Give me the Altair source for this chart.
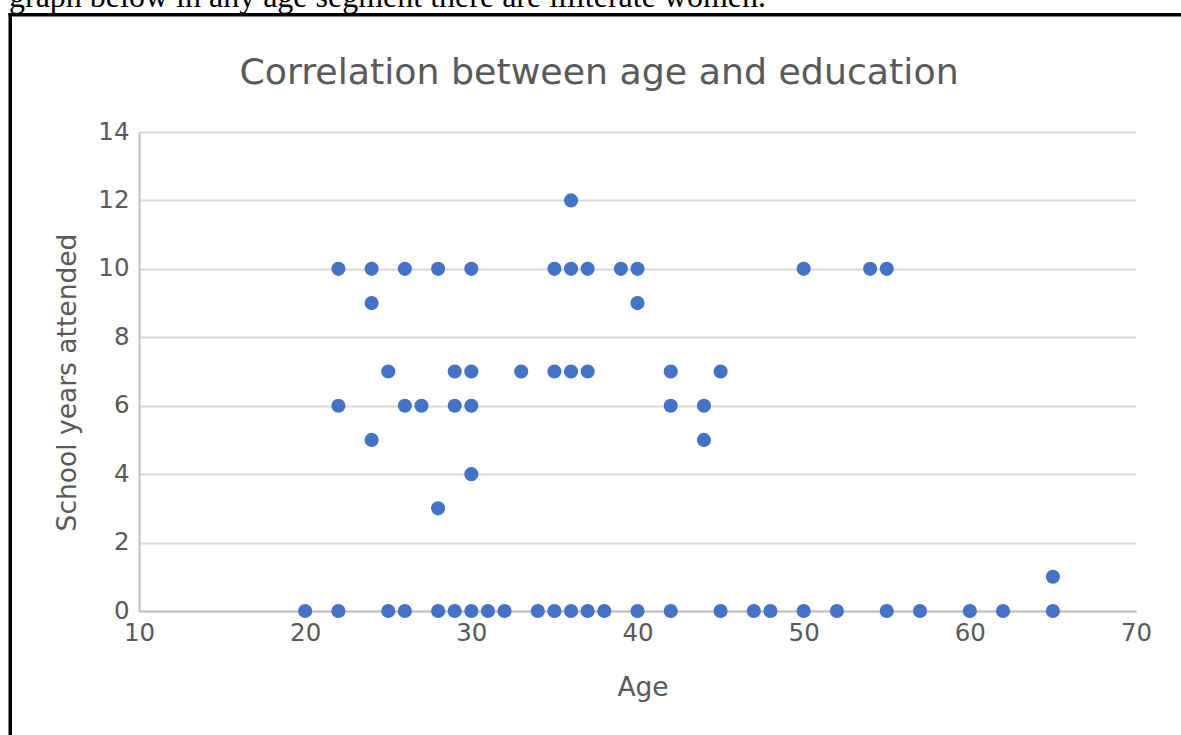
import altair as alt
import pandas as pd

# Each woman's age and the number of school years she attended
age = [
    20, 22, 25, 26, 28, 29, 30, 31, 32, 34, 35, 36, 37, 38, 40, 42, 45, 47, 48, 50, 52, 55, 57, 60, 62, 65,
    65,
    28,
    30,
    24, 44,
    22, 26, 27, 29, 30, 42, 44,
    25, 29, 30, 33, 35, 36, 37, 42, 45,
    24, 40,
    22, 24, 26, 28, 30, 35, 36, 37, 39, 40, 50, 54, 55,
    36,
]
school_years = [
    0, 0, 0, 0, 0, 0, 0, 0, 0, 0, 0, 0, 0, 0, 0, 0, 0, 0, 0, 0, 0, 0, 0, 0, 0, 0,
    1,
    3,
    4,
    5, 5,
    6, 6, 6, 6, 6, 6, 6,
    7, 7, 7, 7, 7, 7, 7, 7, 7,
    9, 9,
    10, 10, 10, 10, 10, 10, 10, 10, 10, 10, 10, 10, 10,
    12,
]

x_ticks = [10, 20, 30, 40, 50, 60, 70]
y_ticks = [0, 2, 4, 6, 8, 10, 12, 14]

chart_title = ["Correlation between age and education"]
caption = ["graph below in any age segment there are illiterate women."]

FONT = "DejaVu Sans"
TEXT = "#595959"
BLUE = "#4472C4"

points = pd.DataFrame({"Age": age, "School years attended": school_years})

scatter = alt.Chart(points).mark_circle(size=200, color=BLUE, opacity=1).encode(
    x=alt.X(
        "Age:Q",
        scale=alt.Scale(domain=[10, 70], nice=False, zero=False),
        axis=alt.Axis(
            values=x_ticks, title="Age", grid=False, ticks=False,
            domainColor="#BFBFBF", domainWidth=2,
            labelFont=FONT, labelFontSize=24.5, labelColor=TEXT,
            labelPadding=29, labelBaseline="alphabetic",
            labelFlush=False, labelOverlap=False,
            titleFont=FONT, titleFontSize=26.5, titleFontWeight="normal",
            titleColor=TEXT, titleX=503.5, titleY=84,
            titleBaseline="alphabetic", titleAlign="center",
        ),
    ),
    y=alt.Y(
        "School years attended:Q",
        scale=alt.Scale(domain=[0, 14], nice=False),
        axis=alt.Axis(
            values=y_ticks, title="School years attended", grid=True,
            gridColor="#D9D9D9", gridWidth=2, ticks=False,
            domainColor="#BFBFBF", domainWidth=2,
            labelFont=FONT, labelFontSize=24.5, labelColor=TEXT,
            labelPadding=10, labelFlush=False, labelOverlap=False,
            titleFont=FONT, titleFontSize=26.5, titleFontWeight="normal",
            titleColor=TEXT, titleX=-63.4, titleY=250, titleAngle=270,
            titleBaseline="alphabetic", titleAlign="center",
        ),
    ),
)

one_row = pd.DataFrame({"k": [0]})

heading = alt.Chart(pd.DataFrame({"label": chart_title})).mark_text(
    font=FONT, fontSize=36.3, color=TEXT, align="center", baseline="alphabetic"
).encode(x=alt.value(460), y=alt.value(-48), text="label:N")

# Document sentence above the chart frame, partly scrolled out of view
doc_line = alt.Chart(pd.DataFrame({"label": caption})).mark_text(
    font="Liberation Serif", fontSize=32, color="#000000", align="left", baseline="alphabetic"
).encode(x=alt.value(-130), y=alt.value(-125), text="label:N")

frame_left = alt.Chart(one_row).mark_rule(color="#000000", strokeWidth=3.5).encode(
    x=alt.value(-128.75), y=alt.value(-119), y2=alt.value(700)
)
frame_top = alt.Chart(one_row).mark_rule(color="#000000", strokeWidth=3.5).encode(
    x=alt.value(-130.5), x2=alt.value(1100), y=alt.value(-117.25)
)

chart = alt.layer(frame_left, frame_top, doc_line, heading, scatter).properties(
    width=997,
    height=479,
    padding={"left": 139, "top": 132, "right": 45, "bottom": 124},
    autosize=alt.AutoSizeParams(type="none"),
    background="#FFFFFF",
).configure_view(strokeWidth=0)

chart.save("out.html", embed_options={"renderer": "svg", "actions": False})
